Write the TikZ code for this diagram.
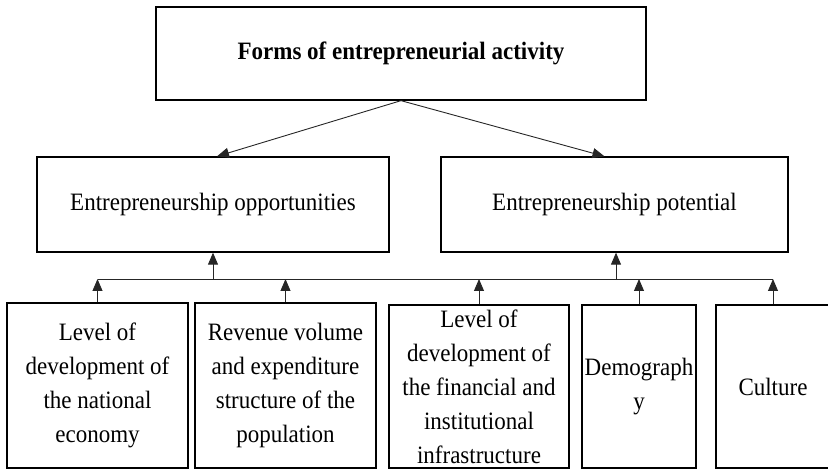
\documentclass[tikz,border=0pt]{standalone}
\usepackage{fontspec}
\setmainfont{Liberation Serif}[FakeStretch=0.92]
\usepackage{tikz}
\usetikzlibrary{arrows.meta}

\begin{document}
\begin{tikzpicture}[x=1pt,y=-1pt,
    box/.style={draw=black,line width=1.3pt,inner sep=0pt,align=center,
      font=\fontsize{25}{34}\selectfont},
    arr/.style={line width=0.9pt,black!85,-{Triangle[length=12pt,width=10pt]}}]
    \clip (0,0) rectangle (828,470);
    % Top
    \node[box,minimum width=490,minimum height=93] (forms) at (401,53.5)
      {\bfseries Forms of entrepreneurial activity};
    % Middle
    \node[box,minimum width=352,minimum height=95] (opp) at (213,204.5)
      {Entrepreneurship opportunities};
    \node[box,minimum width=347,minimum height=95] (pot) at (614.5,204.5)
      {Entrepreneurship potential};
    \draw[arr] (forms.south) to ([xshift=4pt]opp.north);
    \draw[arr] (forms.south) to ([xshift=-10pt]pot.north);
    % Bottom
    \node[box,minimum width=181,minimum height=165] (econ) at (97.5,385.5)
      {Level of\\development of\\the national\\economy};
    \node[box,minimum width=181,minimum height=165] (rev) at (285.5,385.5)
      {Revenue volume\\and expenditure\\structure of the\\population};
    \node[box,minimum width=180,minimum height=163] (fin) at (479,386.5)
      {Level of\\development of\\the financial and\\institutional\\infrastructure};
    \node[box,minimum width=114,minimum height=163] (demo) at (639,386.5)
      {Demograph\\y};
    \node[box,minimum width=114,minimum height=163] (cult) at (773,386.5)
      {Culture};
    % Bus
    \coordinate (busL) at (econ.north |- 0,279);
    \coordinate (busR) at (cult.north |- 0,279);
    \draw[line width=0.9pt,black!85] (busL) to (busR);
    \draw[arr] (opp.south |- busL) to (opp.south);
    \draw[arr] ([xshift=1.5pt]pot.south |- busL) to ([xshift=1.5pt]pot.south);
    \draw[arr] (econ.north) to (econ.north |- busL);
    \draw[arr] (rev.north) to (rev.north |- busL);
    \draw[arr] (fin.north) to (fin.north |- busL);
    \draw[arr] (demo.north) to (demo.north |- busL);
    \draw[arr] (cult.north) to (cult.north |- busL);
\end{tikzpicture}
\end{document}
